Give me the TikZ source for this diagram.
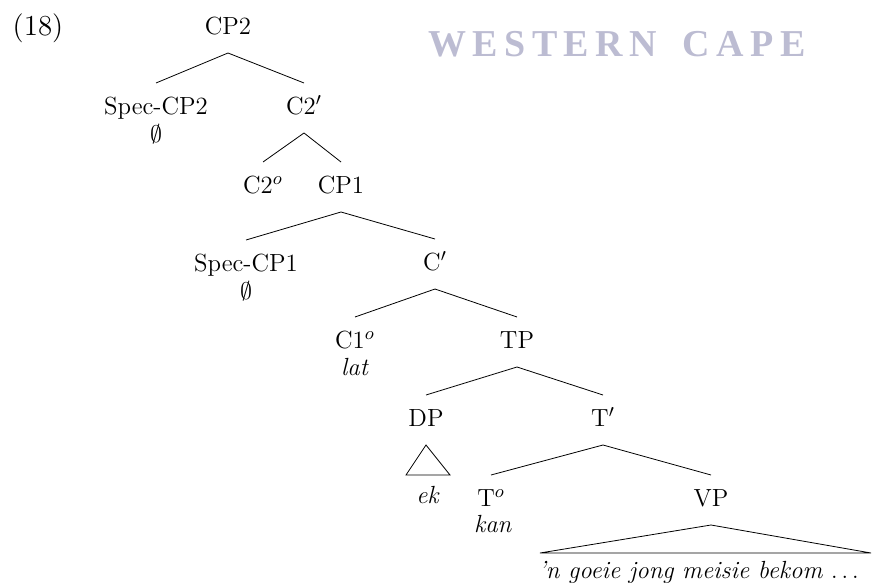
\documentclass[tikz,border=0pt]{standalone}
\usepackage{amsmath,amssymb}
\usepackage{fontspec}
\newfontfamily\wmfont[LetterSpace=17]{Liberation Serif}
\usepackage{tikz}
\definecolor{wmgray}{RGB}{188,188,210}

\begin{document}
\begin{tikzpicture}[x=0.5pt,y=0.5pt,yscale=-1,xscale=1,
    font=\fontsize{12.4}{15}\selectfont,
    cat/.style={inner sep=0pt, text height=8.6pt, text depth=2.4pt, outer ysep=7pt},
    wrd/.style={inner sep=0pt, text height=8.6pt, text depth=2.4pt}]
    \useasboundingbox (0,0) rectangle (872,588);

    % watermark
    \node (wm) at (617,44) {\fontsize{19}{20}\selectfont\wmfont\bfseries\color{wmgray}WESTERN\hspace{5pt} CAPE};

    % example number
    \node [wrd] (num) at (38,29) {\fontsize{14.5}{16}\selectfont(18)};

    % Text Nodes
    \node [cat] (CPtwo) at (228,28) {CP2};
    \node [cat] (SpecCPtwo) at (156,108) {Spec-CP2};
    \node [wrd] (nullA) at (156,136) {$\emptyset$};
    \node [cat] (Ctwobar) at (304,108) {C2$'$};
    \node [cat] (Ctwohead) at (263,187) {C2$^o$};
    \node [cat] (CPone) at (341,187) {CP1};
    \node [cat] (SpecCPone) at (246,265) {Spec-CP1};
    \node [wrd] (nullB) at (246,293) {$\emptyset$};
    \node [cat] (Cbar) at (435,264) {C$'$};
    \node [cat] (Conehead) at (355,342) {C1$^o$};
    \node [wrd] (lat) at (355,369) {\textit{lat}};
    \node [cat] (TP) at (517,342) {TP};
    \node [cat] (DP) at (426,420) {DP};
    \node [wrd] (ek) at (428,497) {\textit{ek}};
    \node [cat] (Tbar) at (603,420) {T$'$};
    \node [cat] (Thead) at (491,500) {T$^o$};
    \node [wrd] (kan) at (493,526) {\textit{kan}};
    \node [cat] (VP) at (711,500) {VP};
    \node [wrd, anchor=west] (vpwords) at (538,572) {\textit{'n goeie jong meisie bekom} $\ldots$};

    % triangle corners
    \coordinate (dpl) at (406,475);
    \coordinate (dpr) at (450,475);
    \coordinate (vpl) at (540,553);
    \coordinate (vpr) at (871,553);

    % branches
    \draw (CPtwo.south) -- (SpecCPtwo.north);
    \draw (CPtwo.south) -- (Ctwobar.north);
    \draw (Ctwobar.south) -- (Ctwohead.north);
    \draw (Ctwobar.south) -- (CPone.north);
    \draw (CPone.south) -- (SpecCPone.north);
    \draw (CPone.south) -- (Cbar.north);
    \draw (Cbar.south) -- (Conehead.north);
    \draw (Cbar.south) -- (TP.north);
    \draw (TP.south) -- (DP.north);
    \draw (TP.south) -- (Tbar.north);
    \draw (Tbar.south) -- (Thead.north);
    \draw (Tbar.south) -- (VP.north);

    % roofs
    \draw (DP.south) -- (dpl) -- (dpr) -- cycle;
    \draw (VP.south) -- (vpl) -- (vpr) -- cycle;

\end{tikzpicture}
\end{document}
